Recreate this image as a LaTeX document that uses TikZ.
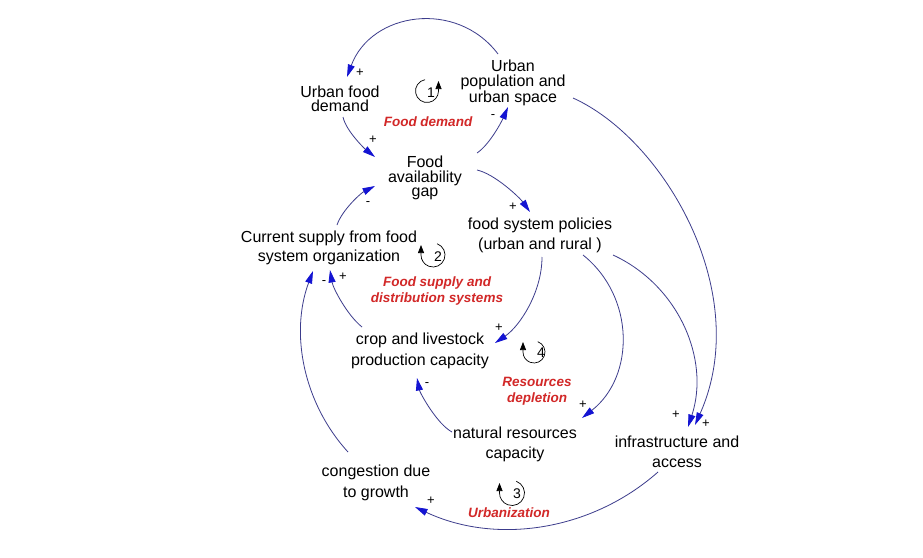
\documentclass[tikz,border=0pt]{standalone}
\usepackage{fontspec}
\setmainfont{Liberation Sans}
\usetikzlibrary{arrows.meta,calc}
\definecolor{linec}{RGB}{60,60,140}
\definecolor{arrowc}{RGB}{20,20,210}
\definecolor{redc}{RGB}{210,40,40}
\begin{document}
\begin{tikzpicture}[x=1pt,y=-1pt,
  var/.style={align=center,inner sep=0pt,anchor=base,font=\fontsize{16}{20.5}\selectfont},
  lab/.style={align=center,inner sep=0pt,anchor=base,text=redc,font=\fontsize{13.5}{16}\selectfont\bfseries\itshape},
  sgn/.style={inner sep=0pt,font=\fontsize{13}{13}\selectfont},
  link/.style={draw=linec,line width=0.8pt,-{Triangle[length=12.5pt,width=7pt,color=arrowc]}},
  loopc/.style={draw=black,line width=0.7pt,-{Triangle[length=8pt,width=6pt]}},
  num/.style={inner sep=0pt,font=\fontsize{14}{14}\selectfont}]

\fill[white] (0,0) rectangle (923,557);
\useasboundingbox (0,0) rectangle (923,557);

% variables (base anchor = baseline of last line)
\node[var,font=\fontsize{16}{14.7}\selectfont] (ufd) at (340,111.7) {Urban food\\demand};
\node[var,font=\fontsize{16}{14.2}\selectfont] (upop) at (513,102) {Urban\\population and\\urban space};
\node[var,font=\fontsize{16}{14.5}\selectfont] (fag) at (425,196.5) {Food\\availability\\gap};
\node[var] (fsp) at (540,249.5) {food system policies\\(urban and rural )};
\node[var,font=\fontsize{16}{19.5}\selectfont] (cs) at (329,261.5) {Current supply from food\\system organization};
\node[var,font=\fontsize{16}{21.7}\selectfont] (crop) at (420,365.7) {crop and livestock\\production capacity};
\node[var] (nat) at (515,458.5) {natural resources\\capacity};
\node[var] (inf) at (677,467.5) {infrastructure and\\access};
\node[var,font=\fontsize{16}{21}\selectfont] (cong) at (376,497) {congestion due\\to growth};

% loop names
\node[lab] (fd) at (428,126.7) {Food demand};
\node[lab] (fs) at (437,302.7) {Food supply and\\distribution systems};
\node[lab] (rd) at (537,402.7) {Resources\\depletion};
\node[lab] (ur) at (509,517.3) {Urbanization};

% connectors
\draw[link] ($(upop.base)+(-15,-48)$) .. controls +(-41.5,-55) and +(24,-65) .. ($(ufd.base)+(7,-34.7)$);
\draw[link] ($(ufd.base)+(3,5.3)$) .. controls +(3,14) and +(-10,-8) .. ($(fag.base)+(-50,-39.5)$);
\draw[link] ($(fag.base)+(52,-43.5)$) .. controls +(12,-8) and +(-7,16) .. ($(upop.base)+(-5,5)$);
\draw[link] ($(fag.base)+(52,-26.5)$) .. controls +(18,4) and +(-10,-14) .. ($(fsp.base)+(-10,-37.5)$);
\draw[link] ($(cs.base)+(8,-36.5)$) .. controls +(5,-15) and +(-14,7) .. ($(fag.base)+(-50,-10.5)$);
\draw[link] ($(crop.base)+(-58,-38.7)$) .. controls +(-15,-12) and +(3,18) .. ($(cs.base)+(1,8.5)$);
\draw[link] ($(cong.base)+(-28,-45)$) .. controls +(-44.7,-49) and +(-23.2,62.1) .. ($(cs.base)+(-16,9.5)$);
\draw[link] ($(fsp.base)+(2,7.5)$) .. controls +(0,35) and +(25,-17) .. ($(crop.base)+(75,-22.7)$);
\draw[link] ($(nat.base)+(-63,-26.5)$) .. controls +(-15,-8) and +(3,15) .. ($(crop.base)+(-3,12.3)$);
\draw[link] ($(fsp.base)+(43,5.5)$) .. controls +(52.4,41.9) and +(52.9,-41.2) .. ($(nat.base)+(67,-40.5)$);
\draw[link] ($(fsp.base)+(73,5.5)$) .. controls +(65.1,30) and +(22.4,-68.1) .. ($(inf.base)+(11,-40.5)$);
\draw[link] ($(upop.base)+(60,-4)$) .. controls +(91,41) and +(59,-132) .. ($(inf.base)+(18,-42.5)$);
\draw[link] ($(inf.base)+(-19,4.5)$) .. controls +(-66.8,59.1) and +(80.7,38) .. ($(cong.base)+(39,10)$);

% polarity signs
\node[sgn] (p1) at (360,73) {+};
\node[sgn] (p2) at (373,140) {+};
\node[sgn] (p3) at (493,117) {-};
\node[sgn] (p4) at (513,207) {+};
\node[sgn] (p5) at (368,204) {-};
\node[sgn] (p6) at (343,277) {+};
\node[sgn] (p7) at (324,283) {-};
\node[sgn] (p8) at (499,328) {+};
\node[sgn] (p9) at (427,385) {-};
\node[sgn] (p10) at (583,405) {+};
\node[sgn] (p11) at (676,415) {+};
\node[sgn] (p12) at (706,424) {+};
\node[sgn] (p13) at (431,501) {+};

% loop markers
\coordinate (c1) at (427,91);
\coordinate (c2) at (433,255);
\coordinate (c3) at (512,493);
\coordinate (c4) at (534,352);
\node[num] (l1) at (431,93) {1};
\node[num] (l2) at (438,257) {2};
\node[num] (l3) at (517,494) {3};
\node[num] (l4) at (541,353) {4};
\draw[loopc] (c1) ++(100:11.5pt) arc[start angle=100,end angle=360,radius=11.5pt] -- ++(0,-10);
\draw[loopc] (c2) ++(70:12pt) arc[start angle=70,end angle=-180,radius=12pt] -- ++(0,-10);
\draw[loopc] (c3) ++(70:12.5pt) arc[start angle=70,end angle=-180,radius=12.5pt] -- ++(0,-10);
\draw[loopc] (c4) ++(70:11pt) arc[start angle=70,end angle=-180,radius=11pt] -- ++(0,-10);
\end{tikzpicture}
\end{document}
